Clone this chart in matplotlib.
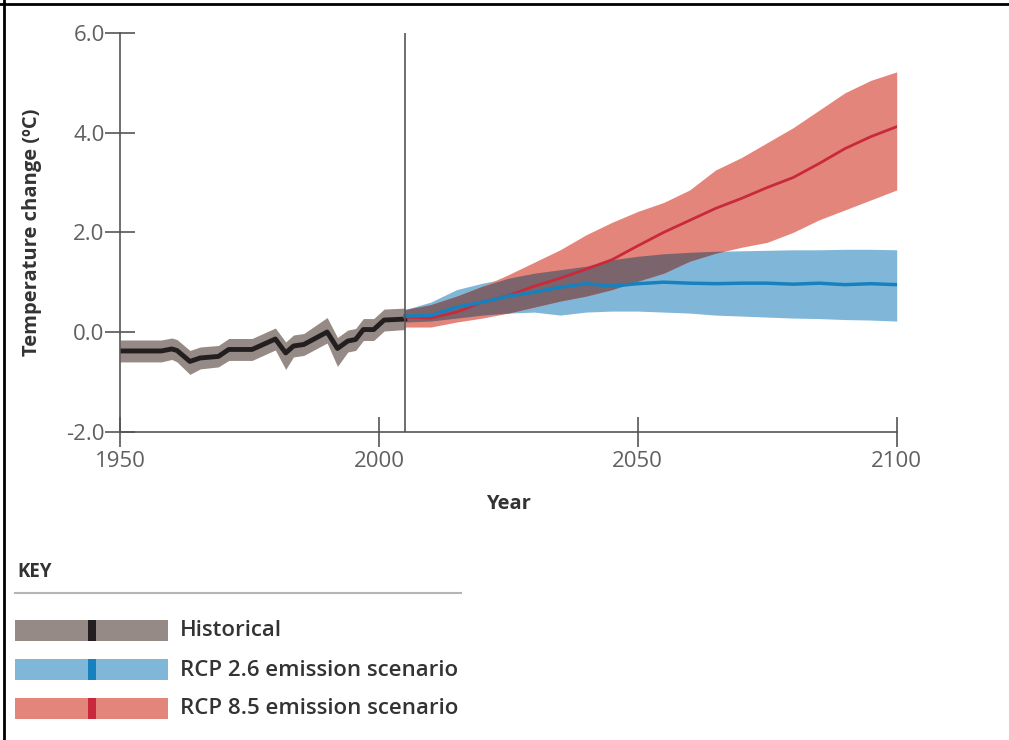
import numpy as np
import matplotlib
matplotlib.use("Agg")
import matplotlib.pyplot as plt
from matplotlib.lines import Line2D
from matplotlib.patches import Rectangle

plt.rcParams['font.family'] = ['Open Sans', 'DejaVu Sans']

# historical record (breakpoints)
hist_years = [1950, 1958, 1960, 1961, 1963.5, 1965.5, 1969, 1971, 1975.5, 1980, 1982, 1983.5,
              1985.5, 1990, 1992, 1994, 1995.5, 1997, 1999, 2001, 2005]
hist_mean = [-0.38, -0.38, -0.34, -0.37, -0.59, -0.52, -0.49, -0.35, -0.35, -0.14, -0.42, -0.28,
             -0.25, 0.0, -0.33, -0.18, -0.15, 0.05, 0.05, 0.24, 0.26]
hist_lower = [-0.6, -0.6, -0.55, -0.6, -0.85, -0.74, -0.7, -0.57, -0.57, -0.36, -0.75, -0.5,
              -0.47, -0.22, -0.69, -0.4, -0.37, -0.17, -0.17, 0.02, 0.05]
hist_upper = [-0.16, -0.16, -0.12, -0.15, -0.37, -0.3, -0.27, -0.13, -0.13, 0.08, -0.2, -0.06,
              -0.03, 0.29, -0.11, 0.04, 0.07, 0.27, 0.27, 0.46, 0.48]

# projections
proj_years = [2005, 2010, 2015, 2020, 2025, 2030, 2035, 2040, 2045, 2050, 2055, 2060,
              2065, 2070, 2075, 2080, 2085, 2090, 2095, 2100]

rcp26_mean = [0.32, 0.33, 0.5, 0.6, 0.72, 0.8, 0.9, 0.97, 0.92, 0.97, 1.0, 0.98,
              0.97, 0.98, 0.98, 0.96, 0.98, 0.95, 0.97, 0.95]
rcp26_lower = [0.2, 0.22, 0.28, 0.34, 0.38, 0.4, 0.34, 0.4, 0.42, 0.42, 0.4, 0.38,
               0.34, 0.32, 0.3, 0.28, 0.27, 0.25, 0.24, 0.22]
rcp26_upper = [0.45, 0.6, 0.85, 0.98, 1.08, 1.18, 1.25, 1.32, 1.45, 1.52, 1.57, 1.6,
               1.62, 1.63, 1.64, 1.65, 1.65, 1.66, 1.66, 1.65]

rcp85_mean = [0.3, 0.28, 0.4, 0.6, 0.73, 0.92, 1.08, 1.26, 1.45, 1.73, 2.0, 2.24,
              2.48, 2.68, 2.9, 3.1, 3.38, 3.68, 3.92, 4.12]
rcp85_lower = [0.1, 0.1, 0.2, 0.28, 0.38, 0.5, 0.62, 0.72, 0.85, 1.02, 1.18, 1.42,
               1.58, 1.7, 1.8, 2.0, 2.25, 2.45, 2.65, 2.85]
rcp85_upper = [0.45, 0.55, 0.72, 0.92, 1.15, 1.4, 1.65, 1.95, 2.2, 2.42, 2.6, 2.85,
               3.25, 3.5, 3.8, 4.1, 4.45, 4.8, 5.05, 5.22]

hist_fill, hist_line = '#958a85', '#231f20'
blue_fill, blue_line = '#80b7d9', '#1681bd'
red_fill, red_line = '#e3857a', '#c92a3b'
overlap_fill = '#7b646b'
axis_col = '#555555'
text_col = '#333333'

fig = plt.figure(figsize=(10.09, 7.40), dpi=100)
ax = fig.add_axes([120 / 1009, 308.3 / 740, 776.7 / 1009, 398.7 / 740])

ax.fill_between(hist_years, hist_lower, hist_upper, color=hist_fill, lw=0)
ax.plot(hist_years, hist_mean, color=hist_line, lw=3.5)

ax.fill_between(proj_years, rcp26_lower, rcp26_upper, color=blue_fill, lw=0)
ax.fill_between(proj_years, rcp85_lower, rcp85_upper, color=red_fill, lw=0)
# overlap of the two scenario ranges
yy = np.array(proj_years, dtype=float)
ov_lo = np.maximum(rcp26_lower, rcp85_lower)
ov_hi = np.minimum(rcp26_upper, rcp85_upper)
ax.fill_between(yy, ov_lo, ov_hi, where=ov_hi > ov_lo, interpolate=True, color=overlap_fill, lw=0)

ax.plot(proj_years, rcp85_mean, color=red_line, lw=2)
ax.plot(proj_years, rcp26_mean, color=blue_line, lw=2.5)

ax.axvline(2005, color=axis_col, lw=1.2, ymin=0, ymax=1)

ax.set_xlim(1950, 2100)
ax.set_ylim(-2, 6)
ax.set_xticks([1950, 2000, 2050, 2100])
ax.set_yticks([-2, 0, 2, 4, 6])
ax.set_yticklabels(['-2.0', '0.0', '2.0', '4.0', '6.0'])
for s in ['top', 'right']:
    ax.spines[s].set_visible(False)
for s in ['left', 'bottom']:
    ax.spines[s].set_color(axis_col)
    ax.spines[s].set_linewidth(1.2)
ax.tick_params(axis='both', direction='inout', length=22, width=1.2, color=axis_col,
               labelcolor='#606060', labelsize=16)
ax.tick_params(axis='x', pad=3)
ax.tick_params(axis='y', pad=0)
ax.set_xlabel('Year', fontsize=14.5, fontweight='bold', color=text_col, labelpad=16)
ax.set_ylabel('Temperature change (ºC)', fontsize=14.5, fontweight='bold', color=text_col)
ax.yaxis.set_label_coords(-0.1, 0.5)

# key
fig.text(17 / 1009, 1 - 572 / 740, 'KEY', fontsize=13.5, fontweight='bold', color=text_col,
         va='center', ha='left')
fig.add_artist(Line2D([15 / 1009, 461 / 1009], [1 - 593 / 740] * 2, color='#b5b5b5', lw=1.5))
key_labels = ['Historical', 'RCP 2.6 emission scenario', 'RCP 8.5 emission scenario']
key_fills = [hist_fill, blue_fill, red_fill]
key_lines = [hist_line, blue_line, red_line]
for i, (lab, fc, lc) in enumerate(zip(key_labels, key_fills, key_lines)):
    top = 620 + i * 39
    fig.add_artist(Rectangle((15 / 1009, 1 - (top + 21) / 740), 153 / 1009, 21 / 740,
                             facecolor=fc, edgecolor='none', transform=fig.transFigure))
    fig.add_artist(Rectangle((88 / 1009, 1 - (top + 21) / 740), 8 / 1009, 21 / 740,
                             facecolor=lc, edgecolor='none', transform=fig.transFigure))
    fig.text(180 / 1009, 1 - (top + 11) / 740, lab, fontsize=16, fontweight='semibold',
             color=text_col, va='center', ha='left')

# frame lines on the top and left of the image
fig.add_artist(Line2D([0, 1], [1 - 4 / 740] * 2, color='black', lw=2))
fig.add_artist(Line2D([4 / 1009] * 2, [0, 1], color='black', lw=2))

fig.savefig('out.png', dpi=100)
